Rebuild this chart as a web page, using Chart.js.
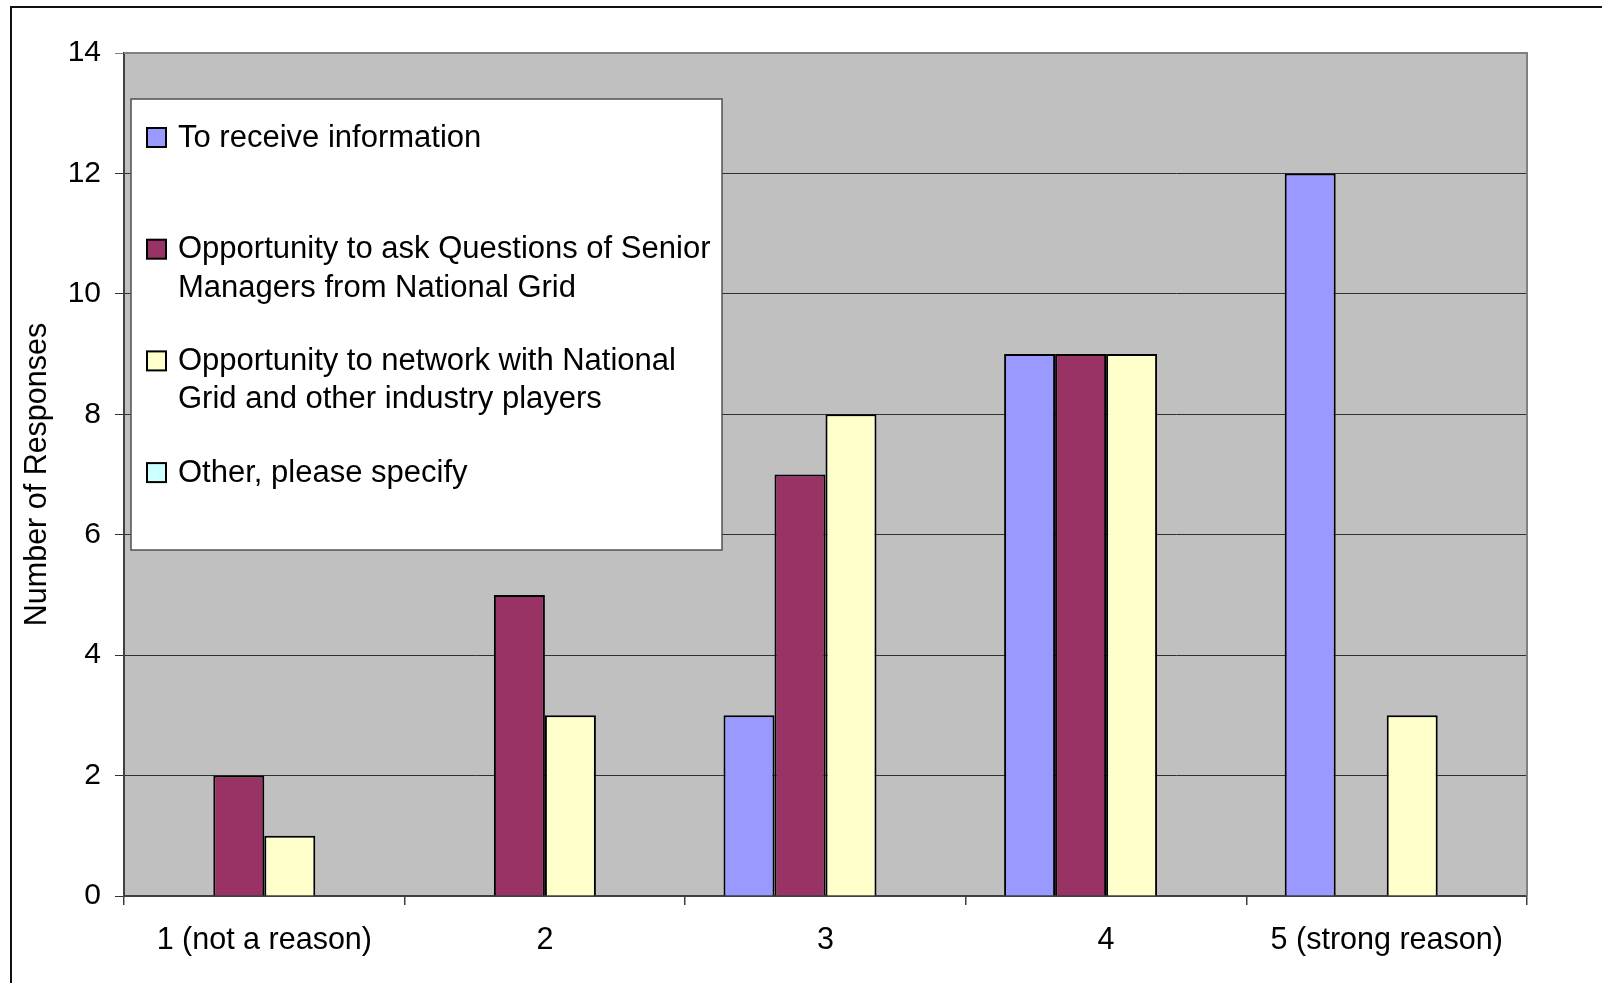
<!DOCTYPE html>
<html lang="en">
<head>
  <meta charset="UTF-8">
  <title>Reasons for attending</title>
  <script src="https://cdn.jsdelivr.net/npm/chart.js"></script>
  <style>
    html, body {
      margin: 0;
      padding: 0;
      background: #fff;
    }
    #wrap {
      width: 1602px;
      height: 983px;
      position: relative;
    }
  </style>
</head>
<body>
  <div id="wrap">
    <canvas id="reasonChart"></canvas>
  </div>

  <script>
    const categories = ['1 (not a reason)', '2', '3', '4', '5 (strong reason)'];
    const seriesNames = [
      'To receive information',
      'Opportunity to ask Questions of Senior\nManagers from National Grid',
      'Opportunity to network with National\nGrid and other industry players',
      'Other, please specify'
    ];
    const receiveInfo = [0, 0, 3, 9, 12];
    const askQuestions = [2, 5, 7, 9, 0];
    const network = [1, 3, 8, 9, 3];
    const other = [0, 0, 0, 0, 0];
    const yTicks = [0, 2, 4, 6, 8, 10, 12, 14];

    const colours = ['#9999ff', '#993366', '#ffffcc', '#ccffff'];
    const font = "'Liberation Sans', Arial, sans-serif";

    // grey plot area, outer frame, top/right plot border
    const backdrop = {
      id: 'backdrop',
      beforeDraw(chart) {
        const { ctx, chartArea: a } = chart;
        ctx.save();
        ctx.fillStyle = '#fff';
        ctx.fillRect(0, 0, chart.width, chart.height);
        ctx.fillStyle = '#c0c0c0';
        ctx.fillRect(a.left, a.top, a.right - a.left, a.bottom - a.top);
        ctx.strokeStyle = '#111';
        ctx.lineWidth = 2;
        ctx.beginPath();
        ctx.moveTo(11, chart.height);
        ctx.lineTo(11, 7);
        ctx.lineTo(chart.width, 7);
        ctx.stroke();
        ctx.restore();
      },
      beforeDatasetsDraw(chart) {
        const { ctx, chartArea: a } = chart;
        ctx.save();
        ctx.strokeStyle = '#808080';
        ctx.lineWidth = 2;
        ctx.beginPath();
        ctx.moveTo(a.left, a.top);
        ctx.lineTo(a.right, a.top);
        ctx.lineTo(a.right, a.bottom);
        ctx.stroke();
        ctx.restore();
      }
    };

    // legend box sitting inside the plot, like the original
    const boxLegend = {
      id: 'boxLegend',
      afterDraw(chart) {
        const { ctx } = chart;
        const x = 131, y = 99, w = 591, h = 451;
        ctx.save();
        ctx.fillStyle = '#fff';
        ctx.fillRect(x, y, w, h);
        ctx.strokeStyle = '#505050';
        ctx.lineWidth = 1.5;
        ctx.strokeRect(x, y, w, h);
        ctx.font = '31px ' + font;
        ctx.textBaseline = 'middle';
        chart.data.datasets.forEach((ds, i) => {
          const cy = 138 + i * 111.7;
          ctx.fillStyle = ds.backgroundColor;
          ctx.fillRect(147, cy - 10, 19, 19);
          ctx.strokeStyle = '#000';
          ctx.lineWidth = 2;
          ctx.strokeRect(147, cy - 10, 19, 19);
          ctx.fillStyle = '#000';
          ds.label.split('\n').forEach((line, j) => {
            ctx.fillText(line, 178, cy + j * 38.5);
          });
        });
        ctx.restore();
      }
    };

    const datasets = [receiveInfo, askQuestions, network, other].map((vals, i) => ({
      label: seriesNames[i],
      data: vals,
      backgroundColor: colours[i],
      borderColor: '#000',
      borderWidth: 2,
      borderSkipped: 'bottom',
      categoryPercentage: 0.727,
      barPercentage: 1
    }));

    new Chart(document.getElementById('reasonChart'), {
      type: 'bar',
      data: { labels: categories, datasets },
      options: {
        responsive: true,
        maintainAspectRatio: false,
        animation: false,
        layout: { padding: { left: 0, top: 53, right: 75, bottom: 0 } },
        plugins: {
          legend: { display: false },
          tooltip: { enabled: false }
        },
        scales: {
          x: {
            afterFit: (s) => { s.height = 87; },
            grid: {
              drawOnChartArea: false,
              drawTicks: true,
              tickLength: 9,
              color: '#404040',
              lineWidth: 1.5
            },
            border: { color: '#404040', width: 2 },
            ticks: {
              color: '#000',
              padding: 17,
              font: { family: font, size: 30.5 }
            }
          },
          y: {
            min: 0,
            max: 14,
            afterFit: (s) => { s.width = 124; },
            afterBuildTicks: (s) => { s.ticks = yTicks.map(v => ({ value: v })); },
            grid: {
              tickLength: 9,
              lineWidth: 1,
              color: (c) => (c.tick && c.tick.value === 14 ? '#808080' : '#303030')
            },
            border: { color: '#404040', width: 2 },
            ticks: {
              color: '#000',
              padding: 14,
              font: { family: font, size: 30 }
            },
            title: {
              display: true,
              text: 'Number of Responses',
              color: '#000',
              padding: { top: 19, bottom: 0 },
              font: { family: font, size: 30.5 }
            }
          }
        }
      },
      plugins: [backdrop, boxLegend]
    });
  </script>
</body>
</html>
